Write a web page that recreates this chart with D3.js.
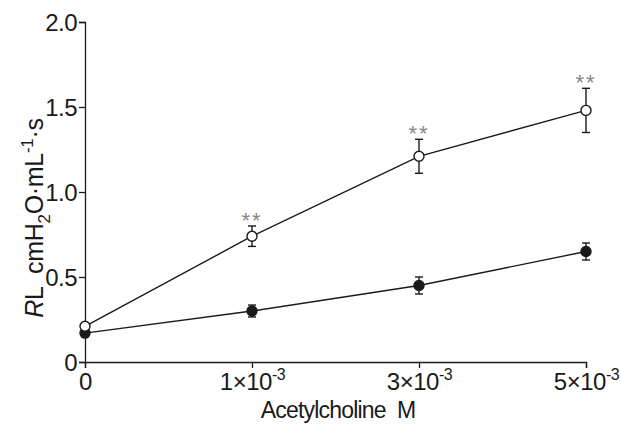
<!DOCTYPE html>
<html>
<head>
<meta charset="utf-8">
<script src="https://cdn.jsdelivr.net/npm/d3@7"></script>
<style>
  body { margin: 0; background: #fff; }
  text { font-family: "Liberation Sans", Arial, sans-serif; fill: #1a1a1a; }
</style>
</head>
<body>
<div id="chart"></div>
<script>
// doses (M) and tick labels
const doses = ["0", "1e-3", "3e-3", "5e-3"];
const doseMantissa = ["0", "1", "3", "5"];
const yTicks = [0, 0.5, 1.0, 1.5, 2.0];

// airway resistance, means and SEM
const openMean = [0.21, 0.74, 1.21, 1.48];
const openErr = [0.02, 0.06, 0.10, 0.13];
const filledMean = [0.17, 0.30, 0.45, 0.65];
const filledErr = [0.02, 0.035, 0.05, 0.05];
const openStars = ["", "**", "**", "**"];

const width = 621, height = 425,
    margin = ({ top: 22, right: 35, bottom: 63, left: 85 });

const svg = d3.select("#chart")
    .append("svg")
    .attr("width", width)
    .attr("height", height);

let x = d3.scalePoint()
    .domain(doses)
    .range([margin.left, width - margin.right]);

let y = d3.scaleLinear()
    .domain([0, 2])
    .range([height - margin.bottom, margin.top]);

// x axis
let xAxis = svg.append("g")
    .attr("transform", `translate(0,${height - margin.bottom})`)
    .call(d3.axisBottom(x).tickSizeOuter(0).tickSize(6).tickFormat(() => ""));
xAxis.selectAll("text").remove();
xAxis.selectAll(".tick").each(function (d, i) {
    let t = d3.select(this).append("text")
        .attr("y", 28)
        .attr("text-anchor", "middle")
        .style("font-size", "24px")
        .style("letter-spacing", "-0.5px");
    if (i === 0) {
        t.text("0");
    } else {
        t.append("tspan").text(doseMantissa[i] + "\u00d710");
        t.append("tspan").attr("dy", -10).style("font-size", "16px").text("-3");
    }
});

// y axis
let yAxis = svg.append("g")
    .attr("transform", `translate(${margin.left},0)`)
    .call(d3.axisLeft(y).tickValues(yTicks).tickSizeOuter(0).tickSize(6)
        .tickFormat(d => d === 0 ? "0" : d3.format(".1f")(d)));
yAxis.selectAll("text").style("font-size", "24px").attr("x", -8).attr("dy", "0.36em")
    .style("letter-spacing", "-0.5px");

svg.selectAll(".domain, .tick line").attr("stroke", "#1a1a1a").attr("stroke-width", 1.3);

// axis labels
svg.append("text")
    .attr("x", 338)
    .attr("y", 418)
    .attr("text-anchor", "middle")
    .style("font-size", "23px")
    .style("letter-spacing", "-0.8px")
    .style("white-space", "pre")
    .text("Acetylcholine  M");

let yl = svg.append("text")
    .attr("transform", `translate(43,218) rotate(-90)`)
    .attr("text-anchor", "middle")
    .style("font-size", "25px")
    .style("letter-spacing", "-0.3px")
    .style("white-space", "pre");
yl.append("tspan").style("font-style", "italic").text("R");
yl.append("tspan").text("L  cmH");
yl.append("tspan").attr("dy", 7).style("font-size", "17px").text("2");
yl.append("tspan").attr("dy", -7).text("O\u00b7mL");
yl.append("tspan").attr("dy", -10).style("font-size", "17px").text("-1");
yl.append("tspan").attr("dy", 10).text("\u00b7s");

// series
let line = d3.line()
    .x(d => x(d.dose))
    .y(d => y(d.v));

function drawSeries(mean, err, fill) {
    let data = doses.map((d, i) => ({ dose: d, v: mean[i], e: err[i] }));
    svg.append("path")
        .datum(data)
        .attr("d", line)
        .attr("fill", "none")
        .attr("stroke", "#1a1a1a")
        .attr("stroke-width", 1.4);
    let g = svg.append("g").selectAll("g").data(data).join("g");
    g.append("line")
        .attr("x1", d => x(d.dose)).attr("x2", d => x(d.dose))
        .attr("y1", d => y(d.v - d.e)).attr("y2", d => y(d.v + d.e))
        .attr("stroke", "#1a1a1a").attr("stroke-width", 1.4);
    [-1, 1].forEach(s => {
        g.append("line")
            .attr("x1", d => x(d.dose) - 4).attr("x2", d => x(d.dose) + 4)
            .attr("y1", d => y(d.v + s * d.e)).attr("y2", d => y(d.v + s * d.e))
            .attr("stroke", "#1a1a1a").attr("stroke-width", 1.4);
    });
    g.append("circle")
        .attr("cx", d => x(d.dose))
        .attr("cy", d => y(d.v))
        .attr("r", 5)
        .attr("fill", fill)
        .attr("stroke", "#1a1a1a")
        .attr("stroke-width", 1.4);
    return data;
}

drawSeries(filledMean, filledErr, "#1a1a1a");
let openData = drawSeries(openMean, openErr, "#fff");

svg.append("g").selectAll("text")
    .data(openData)
    .join("text")
    .attr("x", d => x(d.dose))
    .attr("y", d => y(d.v + d.e) + 2)
    .attr("text-anchor", "middle")
    .style("font-size", "22px")
    .style("letter-spacing", "2px")
    .style("fill", "#888")
    .text((d, i) => openStars[i]);
</script>
</body>
</html>
